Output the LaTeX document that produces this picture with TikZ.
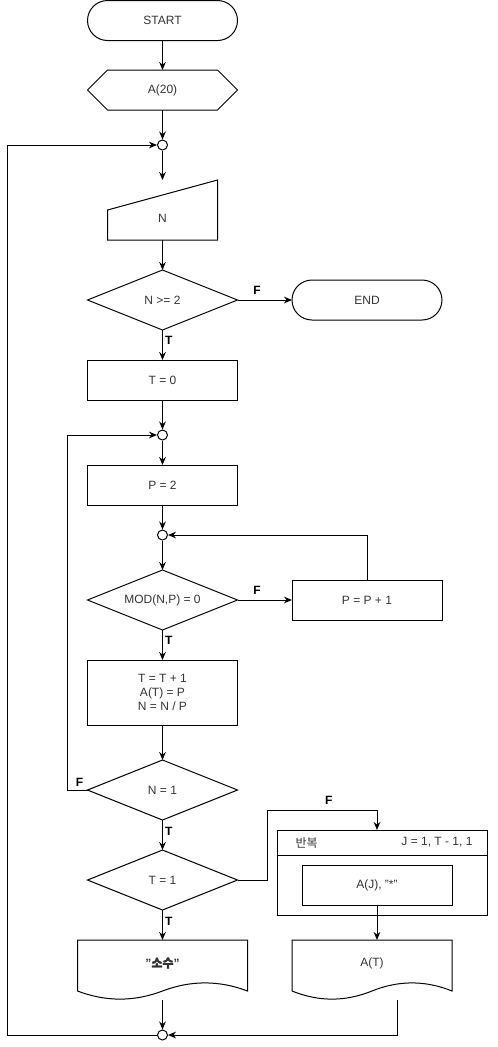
\documentclass[tikz,border=0pt]{standalone}
\usepackage{fontspec}
\setmainfont{Liberation Sans}
\newfontfamily\kr{Noto Sans CJK KR}
\newfontfamily\krb{Noto Sans CJK KR}[FakeBold=1.5]
\usetikzlibrary{shapes.geometric, arrows.meta, calc}

\tikzset{
  base/.style={inner sep=0pt, outer sep=0pt, line width=0.75pt, text=black!80,
    font=\fontsize{9}{10.5}\selectfont, align=center},
  term/.style={base, draw, rounded corners=15pt, minimum width=112.5pt, minimum height=30pt},
  proc/.style={base, draw, minimum width=112.5pt, minimum height=30pt},
  hexa/.style={base, minimum width=112.5pt, minimum height=30pt},
  decis/.style={base, draw, diamond, aspect=2.5, minimum width=112.5pt, minimum height=45pt},
  junc/.style={draw, circle, fill=white, minimum size=7.5pt, inner sep=0pt, line width=0.75pt},
  txt/.style={base},
  arr/.style={line width=0.75pt, -{Stealth[length=6pt,width=5pt]}},
  lbl/.style={font=\bfseries\fontsize{9}{10.5}\selectfont, inner sep=1.5pt},
}

% document symbol with a wavy bottom
\newcommand{\docshape}[1]{%
  \draw[line width=0.75pt] (#1.north west) -- (#1.north east) -- ([yshift=6.75pt]#1.south east)
    .. controls ($([yshift=14.85pt]#1.south east)!1/6!([yshift=14.85pt]#1.south west)$)
    and ($([yshift=14.85pt]#1.south)!1/3!([yshift=14.85pt]#1.south east)$) .. ([yshift=6.75pt]#1.south)
    .. controls ($([yshift=-1.35pt]#1.south)!1/3!([yshift=-1.35pt]#1.south west)$)
    and ($([yshift=-1.35pt]#1.south west)!1/6!([yshift=-1.35pt]#1.south east)$) .. ([yshift=6.75pt]#1.south west)
    -- cycle;}

\begin{document}
\begin{tikzpicture}[x=0.75pt, y=-0.75pt]
\useasboundingbox (0,0) rectangle (498,1047);

% shapes
\node[term] (start) at (162.5,20.5) {START};
\node[hexa] (init) at (162.5,90) {A(20)};
\draw[line width=0.75pt] (init.west) -- ([xshift=15pt]init.north west) -- ([xshift=-15pt]init.north east)
  -- (init.east) -- ([xshift=-15pt]init.south east) -- ([xshift=15pt]init.south west) -- cycle;
\node[junc] (j1) at (162.5,145) {};
\node[base, minimum width=82.5pt, minimum height=45pt] (inN) at (162.5,210) {};
\draw[line width=0.75pt] (inN.south west) -- ([yshift=-22.5pt]inN.north west) -- (inN.north east)
  -- (inN.south east) -- cycle;
\node[txt] (inNtxt) at ([yshift=-6pt]inN.center) {N};
\node[decis] (d1) at (162.5,300) {N >= 2};
\node[term] (endN) at (367,300) {END};
\node[proc] (t0) at (162.5,380) {T = 0};
\node[junc] (j2) at (162.5,435) {};
\node[proc] (p2) at (162.5,485) {P = 2};
\node[junc] (j3) at (162.5,535) {};
\node[decis] (d2) at (162.5,600) {MOD(N,P) = 0};
\node[proc] (pinc) at (367,600) {P = P + 1};
\node[proc, minimum height=48.75pt] (upd) at (162.5,692.5) {T = T + 1\\A(T) = P\\N = N / P};
\node[decis] (d3) at (162.5,790) {N = 1};
\node[decis] (d4) at (162.5,880) {T = 1};

% repeat box
\node[base, draw, minimum width=157.5pt, minimum height=63.75pt] (loop) at (382.5,872.5) {};
\draw[line width=0.75pt] ([yshift=-18.75pt]loop.north west) -- ([yshift=-18.75pt]loop.north east);
\node[txt, anchor=west] (looplbl) at ([xshift=13.5pt,yshift=-9.4pt]loop.north west) {\kr 반복};
\node[txt, anchor=east] (looprng) at ([xshift=-11.25pt,yshift=-9.4pt]loop.north east) {J = 1, T - 1, 1};
\node[proc] (inner) at (377,885) {A(J), "*"};

% outputs
\node[base, minimum width=127.5pt, minimum height=45pt] (prime) at (162.5,970) {};
\docshape{prime}
\node[txt, font=\bfseries\fontsize{9}{10.5}\selectfont] (primetxt) at ([yshift=5.25pt]prime.center) {"{\krb 소수}"};
\node[base, minimum width=120pt, minimum height=45pt] (outT) at (372,970) {};
\docshape{outT}
\node[txt] (outTtxt) at ([yshift=5.25pt]outT.center) {A(T)};
\node[junc] (j4) at (162.5,1035) {};

\coordinate (lx) at (7.5,0);
\coordinate (lf) at (377,810);

% connectors
\draw[arr] (start) -- (init);
\draw[arr] (init) -- (j1);
\draw[arr] (j1) -- (inN);
\draw[arr] (inN) -- (d1);
\draw[arr] (d1.east) -- node[lbl, pos=0.36, above=2pt] {F} (endN.west);
\draw[arr] (d1.south) -- node[lbl, pos=0.33, anchor=west] {T} (t0.north);
\draw[arr] (t0) -- (j2);
\draw[arr] (j2) -- (p2);
\draw[arr] (p2) -- (j3);
\draw[arr] (j3) -- (d2);
\draw[arr] (d2.east) -- node[lbl, pos=0.36, above=2pt] {F} (pinc.west);
\draw[arr] (pinc.north) |- (j3.east);
\draw[arr] (d2.south) -- node[lbl, pos=0.33, anchor=west] {T} (upd.north);
\draw[arr] (upd) -- (d3);
\draw[arr] (d3.west) -- node[lbl, pos=0.4, above=0.5pt] {F} ++(-20,0) |- (j2.west);
\draw[arr] (d3.south) -- node[lbl, pos=0.37, anchor=west] {T} (d4.north);
\draw[arr] (d4.south) -- node[lbl, pos=0.37, anchor=west] {T} (prime.north);
\draw[arr] (d4.east) -- ++(30,0) |- node[lbl, pos=0.78, above=2pt] {F} (lf) -- (lf |- loop.north);
\draw[arr] (inner.south) -- (inner.south |- outT.north);
\draw[arr] (prime.south) -- (j4.north);
\draw[arr] ([xshift=18.75pt]outT.south) |- (j4.east);
\draw[arr] (j4.west) -- (j4.west -| lx) -- (j1.west -| lx) -- (j1.west);
\end{tikzpicture}
\end{document}
